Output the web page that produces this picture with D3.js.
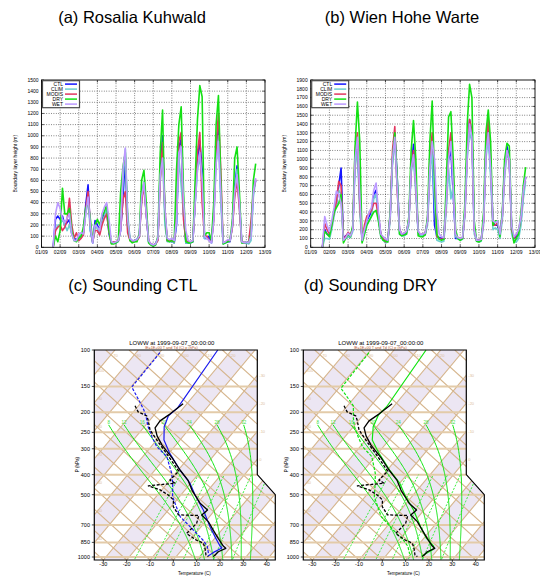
<!DOCTYPE html>
<html>
<head>
<meta charset="utf-8">
<script src="https://cdn.jsdelivr.net/npm/d3@7"></script>
<style>
  body { margin: 0; background: #fff; }
  svg text { font-family: "Liberation Sans", Arial, Helvetica, sans-serif; }
</style>
</head>
<body>
<svg id="fig" width="540" height="576"></svg>
<script>
// ---------------- data ----------------
const seriesNames = ['CTL', 'CLIM', 'MODIS', 'DRY', 'WET'];
const dayLabels = ['01/09', '02/09', '03/09', '04/09', '05/09', '06/09', '07/09',
                   '08/09', '09/09', '10/09', '11/09', '12/09', '13/09'];
const sampleStart = 1.625;   // 01/09 15 UTC
const sampleStep = 0.125;    // 3-hourly values

// boundary layer height (m), rows = days 1..12
const rosaliaCTL = [0, 250, 280,
  250, 280, 200, 220, 250, 120, 80, 70,
  90, 100, 130, 380, 560, 150, 40, 240,
  200, 150, 250, 300, 330, 120, 40, 40,
  40, 60, 150, 450, 800, 200, 70, 50,
  60, 70, 100, 450, 580, 300, 50, 30,
  20, 30, 80, 700, 1000, 300, 60, 60,
  50, 40, 200, 900, 970, 300, 40, 40,
  40, 50, 400, 800, 950, 700, 80, 80,
  100, 40, 300, 850, 1130, 500, 40, 40,
  50, 50, 200, 550, 730, 400, 50, 40,
  40, 40, 100, 500, 600];
const rosaliaCLIM = [0, 150, 200,
  200, 250, 200, 150, 200, 120, 60, 60,
  100, 110, 120, 300, 420, 150, 40, 180,
  170, 130, 220, 280, 350, 150, 40, 40,
  40, 50, 160, 600, 880, 300, 80, 60,
  50, 80, 90, 420, 590, 320, 50, 30,
  20, 30, 70, 600, 850, 200, 50, 50,
  50, 40, 250, 800, 550, 300, 40, 40,
  40, 60, 380, 700, 800, 600, 80, 90,
  60, 40, 250, 750, 1000, 400, 30, 40,
  60, 60, 180, 500, 700, 350, 40, 40,
  40, 30, 60, 450, 600];
const rosaliaMODIS = [0, 150, 180,
  200, 150, 180, 250, 440, 200, 80, 130,
  60, 80, 110, 350, 500, 200, 50, 150,
  150, 110, 200, 260, 300, 140, 40, 50,
  50, 60, 170, 430, 500, 130, 60, 50,
  60, 60, 90, 400, 560, 300, 60, 30,
  20, 30, 60, 600, 940, 350, 60, 60,
  60, 50, 300, 950, 1030, 250, 60, 50,
  50, 60, 420, 850, 1030, 400, 100, 100,
  60, 50, 250, 900, 1200, 700, 40, 50,
  60, 60, 180, 450, 600, 350, 50, 40,
  50, 50, 240, 500, 610];
const rosaliaDRY = [0, 100, 50,
  150, 530, 300, 300, 350, 150, 60, 50,
  80, 100, 180, 350, 400, 250, 50, 200,
  250, 200, 280, 320, 380, 150, 30, 30,
  40, 60, 500, 720, 850, 250, 60, 40,
  50, 50, 120, 600, 690, 400, 40, 20,
  10, 20, 100, 850, 1230, 300, 60, 50,
  60, 50, 700, 1100, 1260, 500, 50, 40,
  40, 50, 600, 1150, 1450, 1350, 100, 130,
  130, 60, 400, 1100, 1360, 600, 30, 40,
  50, 60, 250, 800, 900, 500, 40, 40,
  50, 40, 120, 600, 750];
const rosaliaWET = [0, 300, 400,
  350, 250, 220, 260, 300, 120, 60, 60,
  120, 130, 120, 300, 450, 200, 40, 200,
  180, 150, 300, 360, 400, 250, 50, 40,
  50, 60, 150, 700, 890, 250, 80, 60,
  60, 70, 100, 450, 580, 300, 60, 30,
  20, 30, 80, 650, 800, 350, 80, 70,
  80, 60, 250, 850, 900, 400, 150, 60,
  50, 60, 400, 700, 850, 600, 100, 80,
  60, 40, 250, 750, 950, 500, 40, 50,
  70, 60, 200, 500, 650, 400, 50, 40,
  50, 40, 100, 500, 620];

const wienCTL = [0, 200, 150,
  130, 250, 400, 500, 700, 900, 100, 130,
  150, 130, 200, 1000, 1150, 500, 80, 200,
  300, 350, 400, 600, 650, 350, 150, 90,
  60, 80, 350, 1000, 1300, 800, 200, 150,
  150, 170, 300, 900, 1170, 700, 180, 140,
  140, 150, 300, 900, 1150, 250, 120, 110,
  100, 100, 500, 1000, 1100, 600, 100, 100,
  90, 100, 400, 1100, 1450, 1300, 200, 80,
  80, 90, 300, 1100, 1350, 900, 280, 250,
  250, 150, 350, 900, 1150, 1000, 200, 100,
  120, 150, 300, 600, 800];
const wienCLIM = [0, 100, 100,
  90, 200, 350, 500, 650, 600, 80, 100,
  120, 110, 180, 900, 1100, 400, 60, 150,
  250, 300, 350, 550, 600, 300, 120, 80,
  50, 60, 300, 950, 1200, 700, 150, 130,
  130, 150, 250, 850, 1000, 600, 150, 130,
  130, 140, 250, 800, 1100, 500, 80, 70,
  60, 70, 400, 900, 550, 700, 120, 100,
  80, 90, 350, 1000, 1300, 1200, 150, 70,
  60, 70, 250, 1000, 1250, 800, 200, 220,
  200, 100, 300, 800, 1050, 1000, 150, 60,
  60, 100, 250, 550, 750];
const wienMODIS = [0, 270, 200,
  150, 250, 400, 520, 750, 700, 100, 120,
  170, 140, 220, 1100, 1300, 500, 80, 250,
  350, 380, 420, 500, 500, 350, 150, 100,
  60, 80, 350, 1100, 1370, 650, 200, 150,
  160, 180, 300, 900, 1100, 700, 170, 150,
  150, 160, 300, 1000, 1300, 900, 120, 100,
  90, 100, 500, 1100, 1300, 800, 150, 110,
  100, 100, 400, 1100, 1450, 1300, 200, 80,
  80, 90, 300, 1150, 1450, 1000, 250, 250,
  280, 150, 350, 900, 1100, 1000, 200, 100,
  150, 180, 350, 650, 800];
const wienDRY = [0, 180, 150,
  120, 250, 400, 450, 500, 600, 50, 100,
  150, 120, 250, 1150, 1650, 1200, 50, 150,
  250, 300, 350, 400, 420, 300, 130, 80,
  70, 60, 400, 1000, 1300, 800, 150, 130,
  140, 150, 350, 1100, 1440, 1000, 130, 120,
  120, 140, 350, 1200, 1660, 800, 150, 90,
  80, 90, 700, 1480, 1540, 1000, 200, 100,
  80, 100, 500, 1400, 1850, 1700, 300, 70,
  60, 80, 400, 1300, 1560, 1200, 250, 300,
  300, 120, 400, 1000, 1180, 1150, 250, 50,
  100, 150, 400, 700, 910];
const wienWET = [0, 350, 250,
  180, 300, 450, 640, 600, 500, 80, 110,
  160, 130, 200, 1000, 1250, 600, 80, 200,
  300, 400, 450, 650, 730, 400, 150, 120,
  100, 80, 350, 1000, 1250, 700, 200, 150,
  160, 180, 300, 900, 1050, 700, 180, 150,
  150, 160, 300, 900, 1200, 1000, 400, 150,
  120, 110, 500, 1000, 1200, 700, 150, 110,
  100, 110, 400, 1050, 1400, 1250, 200, 80,
  80, 90, 300, 1050, 1300, 900, 300, 280,
  300, 150, 350, 850, 1100, 1000, 250, 120,
  150, 200, 350, 650, 800];

// soundings at LOWW, [pressure hPa, temperature C]
const obsTemp = [[182, -51.6], [204, -53.6], [220, -55.4], [238, -55], [260, -51.3], [288, -45.9],
  [332, -37], [380, -29.3], [425, -22.3], [475, -17], [550, -8.8], [593, -3.2], [627, -3.9],
  [675, 1.3], [741, 6.4], [813, 11.5], [885, 16.4], [908, 18.3], [943, 16.3], [978, 16.1], [996, 15.9]];
const obsDewp = [[186, -71.5], [199, -68], [208, -62.9], [218, -60.8], [243, -56.5], [272, -50],
  [316, -41], [385, -29.4], [425, -30], [440, -26.7], [453, -37.2], [474, -30.7], [502, -25.4],
  [530, -21.4], [571, -19.1], [626, -13.9], [630, -5], [688, -3.1], [770, -3.8], [830, 2.9],
  [858, 6.9], [908, 9.4], [978, 12.2], [996, 13.8]];
const ctlTemp = [[100, -56], [190, -52.5], [208, -53.6], [235, -51.5], [272, -46.9], [316, -39.6],
  [380, -29.3], [440, -20.3], [502, -13.9], [593, -5], [714, 3.8], [813, 10.5], [885, 15],
  [905, 16.5], [950, 14.5], [990, 13.5]];
const ctlDewp = [[103, -79.8], [151, -79.6], [178, -70.9], [195, -66.2], [214, -62.1], [235, -58.4],
  [262, -53.3], [293, -47.6], [327, -39.8], [394, -31.7], [440, -27.7], [512, -22.9], [638, -12.6],
  [741, -2.1], [830, 5.7], [887, 9.6], [966, 12.9]];
const dryTemp = [[100, -56.3], [188, -52.9], [206, -53.5], [235, -51.5], [272, -47.2], [316, -39.5],
  [380, -29], [440, -20], [502, -13.5], [593, -4.5], [714, 4.5], [813, 11.2], [887, 17.1],
  [920, 18], [966, 16.2], [990, 15.5]];
const dryDewp = [[103, -79.8], [153, -79.1], [186, -67.5], [214, -63], [235, -59.5], [262, -54.5],
  [293, -49], [327, -41.5], [394, -34], [440, -30.5], [512, -26], [638, -16], [741, -6],
  [830, 2], [887, 6], [966, 9.5]];

const pressureTicks = [100, 150, 200, 250, 300, 400, 500, 700, 850, 1000];
const tempTicks = [-30, -20, -10, 0, 10, 20, 30, 40];
const moistThetaW = [8, 12, 16, 20, 24, 28, 32];
const mixRatios = [1, 2, 3, 5, 8, 12, 20];

// ---------------- styles ----------------
const seriesColors = ['#1414ff', '#6ccfcf', '#e2365f', '#14e014', '#bb99ff'];
const tan = '#d5b48b';
const green = '#0fe40f';

const svg = d3.select('#fig');

// titles
const titles = [['(a) Rosalia Kuhwald', 132, 22.5], ['(b) Wien Hohe Warte', 402, 22.5],
                ['(c) Sounding CTL', 133, 290.5], ['(d) Sounding DRY', 370.5, 290.5]];
svg.selectAll('text.title').data(titles).join('text')
    .attr('class', 'title')
    .attr('x', d => d[1]).attr('y', d => d[2])
    .attr('text-anchor', 'middle')
    .style('font-size', '16.5px')
    .text(d => d[0]);

// ---------------- boundary layer panels ----------------
function blhPanel(x0, x1, yMax, rows) {
    let g = svg.append('g');
    let yB = 247.3, yT = 80;
    let x = d3.scaleLinear().domain([1, 13]).range([x0, x1]);
    let y = d3.scaleLinear().domain([0, yMax]).range([yB, yT]);
    let yTicks = d3.range(0, yMax + 1, 100);
    let xTicks = d3.range(1, 14);

    // grid
    g.selectAll('line.gy').data(yTicks.slice(1, -1)).join('line')
        .attr('x1', x0).attr('x2', x1).attr('y1', d => y(d)).attr('y2', d => y(d))
        .attr('stroke', '#000').attr('stroke-width', 0.6).attr('stroke-dasharray', '0.8,1.6');
    g.selectAll('line.gx').data(xTicks.slice(1, -1)).join('line')
        .attr('y1', yB).attr('y2', yT).attr('x1', d => x(d)).attr('x2', d => x(d))
        .attr('stroke', '#000').attr('stroke-width', 0.6).attr('stroke-dasharray', '0.8,1.6');

    // ticks (gnuplot style, inward, mirrored)
    yTicks.forEach(v => {
        g.append('line').attr('x1', x0).attr('x2', x0 + 2.5).attr('y1', y(v)).attr('y2', y(v)).attr('stroke', '#000').attr('stroke-width', 0.6);
        g.append('line').attr('x1', x1 - 2.5).attr('x2', x1).attr('y1', y(v)).attr('y2', y(v)).attr('stroke', '#000').attr('stroke-width', 0.6);
    });
    xTicks.forEach(v => {
        g.append('line').attr('x1', x(v)).attr('x2', x(v)).attr('y1', yB).attr('y2', yB - 2.5).attr('stroke', '#000').attr('stroke-width', 0.6);
        g.append('line').attr('x1', x(v)).attr('x2', x(v)).attr('y1', yT).attr('y2', yT + 2.5).attr('stroke', '#000').attr('stroke-width', 0.6);
    });

    g.selectAll('text.yt').data(yTicks).join('text')
        .attr('x', x0 - 3).attr('y', d => y(d) + 1.7)
        .attr('text-anchor', 'end').style('font-size', '5px')
        .text(d => d);
    g.selectAll('text.xt').data(xTicks).join('text')
        .attr('x', d => x(d)).attr('y', yB + 6.5)
        .attr('text-anchor', 'middle').style('font-size', '5px')
        .text((d, i) => dayLabels[i]);
    g.append('text')
        .attr('transform', `translate(${x0 - 25}, ${(yB + yT) / 2}) rotate(-90)`)
        .attr('text-anchor', 'middle').style('font-size', '5px')
        .text('Boundary layer height (m)');

    // series
    let line = d3.line().x((d, i) => x(sampleStart + i * sampleStep)).y(d => y(d));
    rows.forEach((vals, k) => {
        g.append('path').datum(vals).attr('d', line)
            .attr('fill', 'none').attr('stroke', seriesColors[k])
            .attr('stroke-width', 1.6).attr('stroke-linejoin', 'round');
    });

    // frame
    g.append('rect').attr('x', x0).attr('y', yT).attr('width', x1 - x0).attr('height', yB - yT)
        .attr('fill', 'none').attr('stroke', '#000').attr('stroke-width', 0.9);

    // legend
    let lg = g.append('g').attr('transform', `translate(${x0 + 1}, ${yT + 0.7})`);
    lg.append('rect').attr('width', 37).attr('height', 27)
        .attr('fill', '#fff').attr('stroke', '#4a4a4a').attr('stroke-width', 1.2);
    seriesNames.forEach((name, k) => {
        let ry = 3.4 + k * 5;
        lg.append('text').attr('x', 20.5).attr('y', ry + 1.7)
            .attr('text-anchor', 'end').style('font-size', '5px').text(name);
        lg.append('line').attr('x1', 22.5).attr('x2', 34.5).attr('y1', ry).attr('y2', ry)
            .attr('stroke', seriesColors[k]).attr('stroke-width', 1.5);
    });
}

blhPanel(41.5, 265, 1500, [rosaliaCTL, rosaliaCLIM, rosaliaMODIS, rosaliaDRY, rosaliaWET]);
blhPanel(310.7, 535, 1900, [wienCTL, wienCLIM, wienMODIS, wienDRY, wienWET]);

// ---------------- skew-T panels ----------------
const SKEW = 0.834, DRYK = 1.1, Y_TOP = 350, Y_BOT = 560;
const yP = d3.scaleLog().domain([100, 1000]).range([350, 557]);

function es(tc) { return 6.112 * Math.exp(17.67 * tc / (tc + 243.5)); }
function moistAdiabat(tw) {
    // pseudo-adiabat through (1000 hPa, tw)
    let step = (T, p, dp) => {
        let rs = 0.622 * es(T - 273.15) / (p - es(T - 273.15));
        let dTdlnp = (287 * T + 2.5e6 * rs) / (1004 + 2.5e6 * 2.5e6 * rs * 0.622 / (287 * T * T));
        return T + dTdlnp * dp / p;
    };
    let up = [], T = tw + 273.15;
    for (let p = 1000; p >= 230; p -= 5) { up.push([p, T - 273.15]); T = step(T, p, -5); }
    let down = [];
    T = tw + 273.15;
    for (let p = 1000; p <= 1060; p += 5) { T = step(T, p, 5); down.push([p + 5, T - 273.15]); }
    return down.reverse().concat(up);
}
function mixLine(w) {
    let pts = [];
    for (let p = 1060; p >= 400; p -= 20) {
        let e = w * p / (622 + w), l = Math.log(e / 6.112);
        pts.push([p, 243.5 * l / (17.67 - l)]);
    }
    return pts;
}

function drawSkewT(ox, idx, model, modelColor) {
    let g = svg.append('g');
    let xT = d3.scaleLinear().domain([-30, 40]).range([ox + 9, ox + 172.4]);
    let Xy = (T, yy) => xT(T) + SKEW * (Y_BOT - yy);
    let X = (T, p) => Xy(T, yP(p));
    let box = [[ox, Y_TOP], [ox + 163, Y_TOP], [ox + 163, yP(400)], [ox + 181, yP(500)], [ox + 181, Y_BOT], [ox, Y_BOT]];
    let clipId = 'skewclip' + idx;
    svg.append('clipPath').attr('id', clipId).append('polygon').attr('points', box.join(' '));
    let bg = g.append('g').attr('clip-path', `url(#${clipId})`);

    // shaded temperature bands
    for (let t = -150; t < 60; t += 10) {
        if (Math.abs(t / 10) % 2 !== 1) continue;
        bg.append('polygon')
            .attr('points', [[Xy(t, Y_BOT), Y_BOT], [Xy(t + 10, Y_BOT), Y_BOT],
                             [Xy(t + 10, Y_TOP), Y_TOP], [Xy(t, Y_TOP), Y_TOP]].join(' '))
            .attr('fill', '#ece6f3');
    }
    // isotherms
    for (let t = -150; t <= 60; t += 10) {
        bg.append('line').attr('x1', Xy(t, Y_BOT)).attr('y1', Y_BOT).attr('x2', Xy(t, Y_TOP)).attr('y2', Y_TOP)
            .attr('stroke', tan).attr('stroke-width', 1.1);
    }
    // dry adiabats
    for (let c = -60; c <= 170; c += 10) {
        bg.append('line').attr('x1', xT(c)).attr('y1', Y_BOT).attr('x2', xT(c) - DRYK * (Y_BOT - Y_TOP)).attr('y2', Y_TOP)
            .attr('stroke', tan).attr('stroke-width', 1.1);
    }
    // isobars
    pressureTicks.slice(1).forEach(p => {
        bg.append('line').attr('x1', ox).attr('x2', ox + 181).attr('y1', yP(p)).attr('y2', yP(p))
            .attr('stroke', '#e3cba9').attr('stroke-width', 2);
    });

    let line = d3.line().x(d => X(d[1], d[0])).y(d => yP(d[0]));
    // moist adiabats
    moistThetaW.forEach(tw => {
        let pts = moistAdiabat(tw);
        bg.append('path').datum(pts).attr('d', line)
            .attr('fill', 'none').attr('stroke', green).attr('stroke-width', 1);
        let top = pts[pts.length - 1];
        g.append('text').attr('x', X(top[1], top[0])).attr('y', yP(top[0]) - 1)
            .attr('text-anchor', 'middle').style('font-size', '4.5px').attr('fill', '#3ee03e').text(tw);
    });
    // mixing ratio lines
    mixRatios.forEach(w => {
        bg.append('path').datum(mixLine(w)).attr('d', line)
            .attr('fill', 'none').attr('stroke', '#22ee22').attr('stroke-width', 0.9)
            .attr('stroke-dasharray', '2,1.6');
    });

    // tan labels for isotherms / adiabats
    let lab = (xx, yy, t, anchor) => g.append('text').attr('x', xx).attr('y', yy)
        .attr('text-anchor', anchor).style('font-size', '4px').attr('fill', '#dcc09c').text(t);
    for (let t = -150; t <= 60; t += 10) {
        let yl = Y_BOT - (ox - xT(t)) / SKEW;
        if (yl > Y_TOP + 8 && yl < Y_BOT - 4) lab(ox + 2, yl - 3, t, 'start');
        let yr = Y_BOT - (ox + 163 - xT(t)) / SKEW;
        if (yr > Y_TOP - 1 && yr < yP(400)) lab(ox + 165, yr + 1.5, t, 'start');
    }
    for (let c = -60; c <= 170; c += 10) {
        let xx = xT(c) - DRYK * (Y_BOT - Y_TOP - 7);
        if (xx > ox + 4 && xx < ox + 159) lab(xx + 2, Y_TOP + 7, c, 'middle');
    }

    // soundings
    let prof = (data, color, dash, w) => g.append('path').datum(data).attr('d', line)
        .attr('fill', 'none').attr('stroke', color).attr('stroke-width', w)
        .attr('stroke-dasharray', dash).attr('stroke-linejoin', 'round');
    prof(model[0], modelColor, null, 1.2);
    prof(model[1], modelColor, '3,1.6', 1.2);
    prof(obsTemp, '#000', null, 1.3);
    prof(obsDewp, '#000', '3,1.6', 1.3);

    // frame
    g.append('polygon').attr('points', box.join(' '))
        .attr('fill', 'none').attr('stroke', '#000').attr('stroke-width', 1.2);

    // axes
    pressureTicks.forEach(p => {
        g.append('line').attr('x1', ox - 2.5).attr('x2', ox).attr('y1', yP(p)).attr('y2', yP(p))
            .attr('stroke', '#000').attr('stroke-width', 0.7);
        g.append('text').attr('x', ox - 4.3).attr('y', yP(p) + 2)
            .attr('text-anchor', 'end').style('font-size', '5.5px').text(p);
    });
    tempTicks.forEach(t => {
        g.append('line').attr('x1', xT(t)).attr('x2', xT(t)).attr('y1', Y_BOT).attr('y2', Y_BOT + 2)
            .attr('stroke', '#000').attr('stroke-width', 0.7);
        g.append('text').attr('x', xT(t)).attr('y', Y_BOT + 5.6)
            .attr('text-anchor', 'middle').style('font-size', '5.5px').text(t);
    });
    g.append('text').attr('transform', `translate(${ox - 15}, ${yP(400) - 10}) rotate(-90)`)
        .attr('text-anchor', 'middle').style('font-size', '4.5px').text('P (hPa)');
    g.append('text').attr('x', ox + 100).attr('y', 575)
        .attr('text-anchor', 'middle').style('font-size', '4.5px').text('Temperature (C)');
    g.append('text').attr('x', ox + 77.5).attr('y', 344.5)
        .attr('text-anchor', 'middle').style('font-size', '6px').text('LOWW at 1999-09-07_00:00:00');
    g.append('text').attr('x', ox + 77).attr('y', 349.2)
        .attr('text-anchor', 'middle').style('font-size', '3.8px').attr('fill', '#b5552a')
        .text('IE=1E+00   T and Td (C)   p (hPa)');
}

drawSkewT(94.3, 0, [ctlTemp, ctlDewp], '#1a1aee');
drawSkewT(303.3, 1, [dryTemp, dryDewp], '#0fe40f');
</script>
</body>
</html>
